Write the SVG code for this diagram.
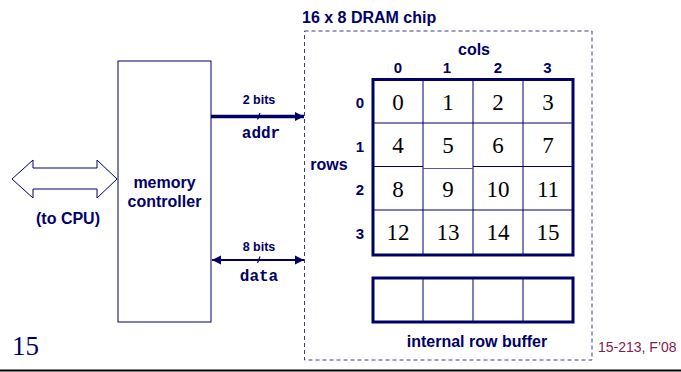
<svg xmlns="http://www.w3.org/2000/svg" width="681" height="372" viewBox="0 0 681 372">
<style>
.lbl{font-family:"Liberation Sans",Arial,sans-serif;font-weight:bold;fill:#000066;}
.num{font-family:"Liberation Serif","Times New Roman",serif;font-size:23px;fill:#000;text-anchor:middle;}
.mono{font-family:"Liberation Mono","Courier New",monospace;font-weight:bold;font-size:16px;fill:#000066;text-anchor:middle;}
.thin{stroke:#000066;stroke-width:1;fill:none;}
.thick{stroke:#000066;stroke-width:3;fill:none;}
.c{text-anchor:middle;}
</style>
<defs>
<marker id="ah" markerUnits="userSpaceOnUse" markerWidth="10" markerHeight="10" refX="9" refY="5" orient="auto-start-reverse">
<path d="M0,0.5 L9,5 L0,9.5 Z" fill="#000066"/>
</marker>
</defs>
<rect width="681" height="372" fill="#fff"/>

<g id="cpu-link">
<polygon points="12,179 33,160 33,168 97,168 97,160 117,179 97,198 97,189 33,189 33,198" fill="#fff" stroke="#000066" stroke-width="1"/>
<text class="lbl c" x="68" y="224" font-size="16">(to CPU)</text>
</g>

<g id="memory-controller">
<rect x="118" y="61" width="93" height="261" class="thin" fill="#fff"/>
<text class="lbl c" x="164.5" y="188" font-size="16">memory</text>
<text class="lbl c" x="164.5" y="207" font-size="16">controller</text>
</g>

<g id="connectors">
<line x1="211" y1="116.5" x2="304" y2="116.5" stroke="#000066" stroke-width="3.5" marker-end="url(#ah)"/>
<line x1="257.5" y1="119.5" x2="260" y2="113" stroke="#000066" stroke-width="1.2"/>
<line x1="212" y1="260" x2="304" y2="260" stroke="#000066" stroke-width="2" marker-start="url(#ah)" marker-end="url(#ah)"/>
<line x1="257.5" y1="263" x2="260" y2="256.5" stroke="#000066" stroke-width="1.2"/>
</g>
<g id="bus-labels">
<text class="lbl c" x="259" y="104" font-size="12.5">2 bits</text>
<text class="mono" x="261" y="138">addr</text>
<text class="lbl c" x="259" y="251" font-size="12.5">8 bits</text>
<text class="mono" x="259" y="281">data</text>
</g>

<g id="dram-chip">
<rect x="304.5" y="31" width="287.5" height="329" fill="none" stroke="#3a3a8c" stroke-width="1" stroke-dasharray="4,3"/>
<text class="lbl" x="302" y="23" font-size="16">16 x 8 DRAM chip</text>
<text class="lbl c" x="474" y="55" font-size="16">cols</text>
<text class="lbl c" x="398" y="73" font-size="15">0</text>
<text class="lbl c" x="447" y="73" font-size="15">1</text>
<text class="lbl c" x="498" y="73" font-size="15">2</text>
<text class="lbl c" x="547.5" y="73" font-size="15">3</text>
<text class="lbl c" x="329" y="170" font-size="16">rows</text>
<text class="lbl c" x="360" y="108" font-size="15">0</text>
<text class="lbl c" x="360" y="152" font-size="15">1</text>
<text class="lbl c" x="360" y="195" font-size="15">2</text>
<text class="lbl c" x="360" y="239" font-size="15">3</text>
</g>

<g id="cell-array">
<line x1="423" y1="79" x2="423" y2="255" class="thin"/>
<line x1="473" y1="79" x2="473" y2="255" class="thin"/>
<line x1="523" y1="79" x2="523" y2="255" class="thin"/>
<line x1="373" y1="123" x2="573" y2="123" class="thin"/>
<line x1="373" y1="166.5" x2="423" y2="166.5" class="thin"/>
<line x1="423" y1="168.5" x2="473" y2="168.5" stroke="#5a5a9a" stroke-width="1"/>
<line x1="473" y1="166.5" x2="573" y2="166.5" class="thin"/>
<line x1="373" y1="210" x2="573" y2="210" class="thin"/>
<rect x="373" y="79.5" width="200" height="175.5" class="thick"/>
<text class="num" x="398" y="110">0</text>
<text class="num" x="448" y="110">1</text>
<text class="num" x="498" y="110">2</text>
<text class="num" x="548" y="110">3</text>
<text class="num" x="398" y="153">4</text>
<text class="num" x="448" y="153">5</text>
<text class="num" x="498" y="153">6</text>
<text class="num" x="548" y="153">7</text>
<text class="num" x="398" y="197">8</text>
<text class="num" x="448" y="197">9</text>
<text class="num" x="498" y="197">10</text>
<text class="num" x="548" y="197">11</text>
<text class="num" x="398" y="240">12</text>
<text class="num" x="448" y="240">13</text>
<text class="num" x="498" y="240">14</text>
<text class="num" x="548" y="240">15</text>
</g>

<g id="row-buffer">
<line x1="423" y1="278" x2="423" y2="322" class="thin"/>
<line x1="473" y1="278" x2="473" y2="322" class="thin"/>
<line x1="523" y1="278" x2="523" y2="322" class="thin"/>
<rect x="373" y="278" width="200" height="44" class="thick"/>
<text class="lbl c" x="477" y="347" font-size="16">internal row buffer</text>
</g>

<g id="footer">
<text x="12" y="355" font-family="'Liberation Serif','Times New Roman',serif" font-size="27" fill="#000066">15</text>
<text x="598" y="352" font-family="'Liberation Sans',Arial,sans-serif" font-size="14" fill="#80204f">15-213, F’08</text>
<line x1="0" y1="370.5" x2="681" y2="370.5" stroke="#000" stroke-width="2"/>
</g>
</svg>
